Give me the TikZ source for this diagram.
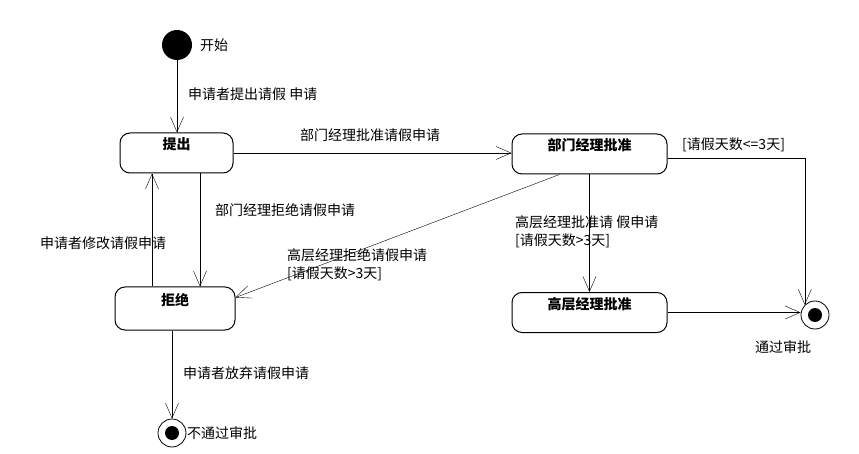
\documentclass[tikz,border=0pt]{standalone}
\usepackage{fontspec}
\setmainfont{Noto Sans CJK SC}
\usetikzlibrary{arrows.meta}

\begin{document}
\begin{tikzpicture}[x=1pt, y=-1pt, >={Straight Barb[length=15pt,width=13pt]},
    font=\fontsize{14pt}{18pt}\selectfont,
    state/.style={draw, line width=1pt, rounded corners=10pt, inner ysep=4pt,
        text height=13pt, text depth=19pt, font=\fontsize{14pt}{18pt}\selectfont\bfseries},
    initstate/.style={circle, fill=black, minimum size=30pt, inner sep=0pt},
    finalstate/.style={circle, draw, line width=0.8pt, minimum size=28pt, inner sep=0pt},
    lbl/.style={anchor=west, inner sep=0pt, align=left}]

    \useasboundingbox (0,0) rectangle (859,454);

    % --- estados ---
    \node[initstate] (start) at (177,45) {};
    \node[state, minimum width=113pt] (submit) at (176.5,153) {提出};
    \node[state, minimum width=120pt, minimum height=43pt] (reject) at (175,308.5) {拒绝};
    \node[state, minimum width=155pt] (dept) at (589.5,154) {部门经理批准};
    \node[state, minimum width=155pt] (senior) at (589.5,312.5) {高层经理批准};
    \node[finalstate] (fail) at (172,433) {};
    \fill (fail) circle (7pt);
    \node[finalstate] (pass) at (815,315) {};
    \fill (pass) circle (7pt);

    % --- transiciones ---
    \draw[->, thin] (start) -- (submit.north -| start);
    \draw[->, thin] (submit.east) -- (dept.west |- submit.east);
    \draw[->, thin] ([xshift=23.5pt]submit.south) -- ([xshift=23.5pt]submit.south |- reject.north);
    \draw[->, thin] ([xshift=-23pt]reject.north) -- ([xshift=-23pt]reject.north |- submit.south);
    \draw[->, thin] ([xshift=-30pt]dept.south) -- ([yshift=11pt]reject.east);
    \draw[->, thin] (dept.south) -- (senior.north);
    \draw[->, thin] ([yshift=-4pt]dept.east) -| (pass.north west);
    \draw[->, thin] (senior.east) -- (senior.east -| pass.west);
    \draw[->, thin] (fail.north |- reject.south) -- (fail.north);

    % --- etiquetas ---
    \node[lbl] (lstart) at (200,45) {开始};
    \node[lbl] (lsubmit) at (188,94) {申请者提出请假 申请};
    \node[lbl] (ldeptok) at (300,135) {部门经理批准请假申请};
    \node[lbl] (ldeptno) at (215,210) {部门经理拒绝请假申请};
    \node[lbl] (lmodify) at (40,243) {申请者修改请假申请};
    \node[lbl] (lseniorno) at (287,265) {高层经理拒绝请假申请\\{}[请假天数>3天]};
    \node[lbl] (lseniorok) at (515,232) {高层经理批准请 假申请\\{}[请假天数>3天]};
    \node[lbl] (lshort) at (682,145) {[请假天数<=3天]};
    \node[lbl] (lgiveup) at (183,373) {申请者放弃请假申请};
    \node[lbl] (lfail) at (187,433) {不通过审批};
    \node[lbl] (lpass) at (755,347) {通过审批};

\end{tikzpicture}
\end{document}
